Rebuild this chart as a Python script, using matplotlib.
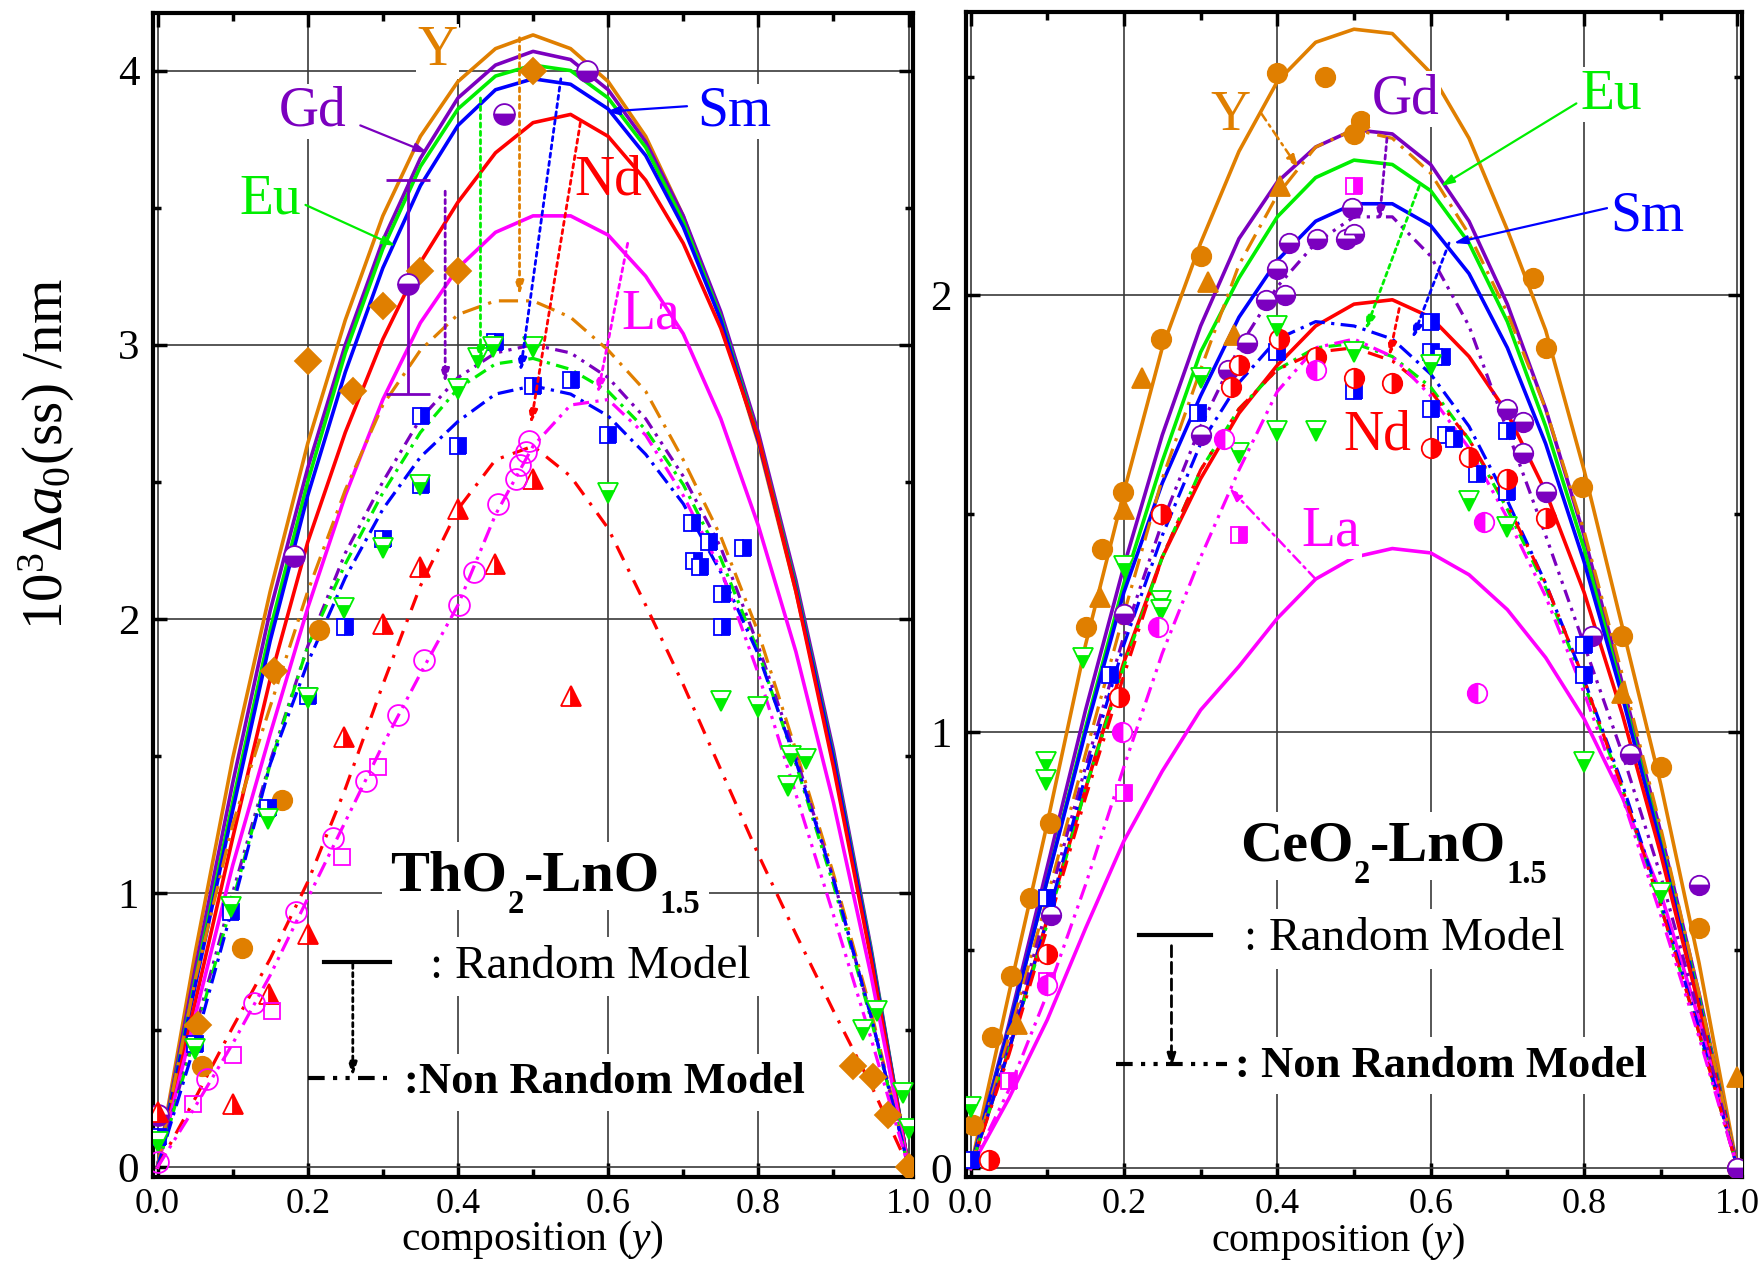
import matplotlib.pyplot as plt
from matplotlib.ticker import FormatStrFormatter, MultipleLocator

plt.rcParams['font.family'] = ['Liberation Serif', 'DejaVu Serif']
plt.rcParams['mathtext.fontset'] = 'custom'
plt.rcParams['mathtext.rm'] = 'Liberation Serif'
plt.rcParams['mathtext.it'] = 'Liberation Serif:italic'
plt.rcParams['mathtext.bf'] = 'Liberation Serif:bold'

C_Y, C_GD, C_EU, C_SM, C_ND, C_LA = '#e07f00', '#7b00bf', '#00ee00', '#0000ff', '#ff0000', '#ff00ff'

comp = [0.0, 0.05, 0.1, 0.15, 0.2, 0.25, 0.3, 0.35, 0.4, 0.45, 0.5,
        0.55, 0.6, 0.65, 0.7, 0.75, 0.8, 0.85, 0.9, 0.95, 1.0]

# ---- ThO2-LnO1.5 : random model (solid)
th_rand_Y = [0, 0.78, 1.49, 2.10, 2.64, 3.09, 3.47, 3.76, 3.96, 4.08, 4.13, 4.08, 3.96, 3.76, 3.47, 3.09, 2.64, 2.10, 1.49, 0.78, 0]
th_rand_Gd = [0, 0.72, 1.40, 2.03, 2.55, 3.00, 3.38, 3.68, 3.90, 4.02, 4.07, 4.04, 3.93, 3.74, 3.47, 3.12, 2.68, 2.14, 1.52, 0.80, 0]
th_rand_Eu = [0, 0.68, 1.33, 1.96, 2.50, 2.97, 3.35, 3.65, 3.86, 3.98, 4.02, 4.00, 3.90, 3.72, 3.45, 3.10, 2.66, 2.12, 1.50, 0.79, 0]
th_rand_Sm = [0, 0.66, 1.30, 1.92, 2.45, 2.90, 3.28, 3.58, 3.80, 3.93, 3.97, 3.95, 3.86, 3.69, 3.43, 3.09, 2.65, 2.11, 1.49, 0.78, 0]
th_rand_Nd = [0, 0.60, 1.20, 1.78, 2.28, 2.68, 3.02, 3.30, 3.52, 3.70, 3.81, 3.84, 3.76, 3.60, 3.37, 3.06, 2.66, 2.10, 1.46, 0.76, 0]
th_rand_La = [0, 0.55, 1.10, 1.58, 2.04, 2.45, 2.80, 3.08, 3.28, 3.41, 3.47, 3.47, 3.40, 3.25, 3.04, 2.73, 2.34, 1.88, 1.33, 0.70, 0]

# ---- ThO2-LnO1.5 : non random model (dash-dot)
th_nr_Y = [0, 0.68, 1.25, 1.68, 2.10, 2.47, 2.78, 2.98, 3.11, 3.16, 3.16, 3.10, 2.98, 2.83, 2.58, 2.30, 1.95, 1.52, 1.07, 0.57, 0]
th_nr_Gd = [0, 0.50, 1.00, 1.48, 1.90, 2.24, 2.50, 2.73, 2.88, 2.97, 3.00, 2.97, 2.88, 2.73, 2.52, 2.26, 1.90, 1.50, 1.05, 0.55, 0]
th_nr_Eu = [0, 0.48, 0.97, 1.47, 1.90, 2.20, 2.46, 2.68, 2.84, 2.93, 2.95, 2.91, 2.83, 2.69, 2.49, 2.22, 1.88, 1.47, 1.03, 0.54, 0]
th_nr_Sm = [0, 0.45, 0.95, 1.47, 1.84, 2.15, 2.40, 2.59, 2.72, 2.82, 2.85, 2.82, 2.74, 2.60, 2.42, 2.17, 1.87, 1.48, 1.05, 0.55, 0]
th_nr_Nd = [0, 0.25, 0.51, 0.76, 1.04, 1.38, 1.76, 2.12, 2.40, 2.58, 2.63, 2.52, 2.33, 2.05, 1.76, 1.45, 1.14, 0.85, 0.57, 0.30, 0]
th_nr_La = [0, 0.22, 0.45, 0.70, 0.98, 1.26, 1.54, 1.80, 2.05, 2.38, 2.63, 2.78, 2.80, 2.67, 2.45, 2.18, 1.80, 1.36, 0.92, 0.47, 0]

# ---- ThO2-LnO1.5 : experimental points
th_Y_dia_x = [0.054, 0.155, 0.2, 0.26, 0.3, 0.35, 0.4, 0.5, 0.926, 0.952, 0.973, 1.0]
th_Y_dia_y = [0.52, 1.81, 2.94, 2.83, 3.14, 3.27, 3.27, 4.0, 0.37, 0.33, 0.19, 0.0]
th_Y_cir_x = [0.059, 0.113, 0.166, 0.215]
th_Y_cir_y = [0.37, 0.80, 1.34, 1.96]
th_Gd_x = [0.0, 0.182, 0.333, 0.461, 0.572]
th_Gd_y = [0.19, 2.23, 3.22, 3.84, 4.0]
th_Sm_x = [0.0, 0.05, 0.098, 0.147, 0.2, 0.25, 0.3, 0.351, 0.351, 0.4, 0.45, 0.5, 0.55, 0.6,
           0.712, 0.734, 0.78, 0.714, 0.722, 0.752, 0.752]
th_Sm_y = [0.11, 0.45, 0.93, 1.31, 1.72, 1.97, 2.29, 2.74, 2.49, 2.63, 3.01, 2.85, 2.87, 2.67,
           2.35, 2.28, 2.26, 2.21, 2.19, 2.09, 1.97]
th_Eu_x = [0.0, 0.05, 0.098, 0.147, 0.2, 0.248, 0.3, 0.35, 0.4, 0.427, 0.447, 0.5, 0.6,
           0.75, 0.8, 0.843, 0.863, 0.84, 0.94, 0.958, 0.992, 1.0]
th_Eu_y = [0.09, 0.43, 0.95, 1.27, 1.71, 2.04, 2.26, 2.49, 2.84, 2.95, 2.99, 2.99, 2.46,
           1.70, 1.68, 1.50, 1.49, 1.39, 0.50, 0.57, 0.27, 0.14]
th_Nd_x = [0.0, 0.1, 0.149, 0.2, 0.248, 0.3, 0.35, 0.4, 0.45, 0.5, 0.55]
th_Nd_y = [0.2, 0.23, 0.63, 0.85, 1.57, 1.98, 2.19, 2.40, 2.20, 2.51, 1.72]
th_La_cir_x = [0.0, 0.066, 0.128, 0.184, 0.233, 0.277, 0.32, 0.355, 0.401, 0.421, 0.453, 0.477, 0.483, 0.49, 0.495]
th_La_cir_y = [0.02, 0.32, 0.60, 0.93, 1.20, 1.41, 1.65, 1.85, 2.05, 2.17, 2.42, 2.51, 2.56, 2.61, 2.65]
th_La_sq_x = [0.047, 0.101, 0.153, 0.246, 0.294]
th_La_sq_y = [0.23, 0.41, 0.57, 1.13, 1.46]

# ---- CeO2-LnO1.5 : random model (solid)
ce_rand_Y = [0, 0.40, 0.79, 1.20, 1.55, 1.88, 2.12, 2.33, 2.49, 2.58, 2.61, 2.60, 2.51, 2.36, 2.15, 1.92, 1.60, 1.24, 0.88, 0.47, 0]
ce_rand_Gd = [0, 0.33, 0.69, 1.05, 1.38, 1.68, 1.93, 2.13, 2.26, 2.34, 2.38, 2.37, 2.30, 2.17, 1.98, 1.74, 1.45, 1.11, 0.77, 0.40, 0]
ce_rand_Eu = [0, 0.32, 0.66, 1.01, 1.34, 1.62, 1.87, 2.04, 2.18, 2.27, 2.31, 2.30, 2.24, 2.12, 1.94, 1.70, 1.42, 1.09, 0.75, 0.39, 0]
ce_rand_Sm = [0, 0.32, 0.66, 1.00, 1.32, 1.57, 1.77, 1.95, 2.08, 2.17, 2.21, 2.21, 2.16, 2.05, 1.88, 1.66, 1.39, 1.08, 0.74, 0.38, 0]
ce_rand_Nd = [0, 0.27, 0.57, 0.87, 1.16, 1.40, 1.58, 1.73, 1.84, 1.93, 1.98, 1.99, 1.95, 1.86, 1.73, 1.55, 1.32, 1.04, 0.72, 0.37, 0]
ce_rand_La = [0, 0.16, 0.34, 0.55, 0.75, 0.91, 1.05, 1.15, 1.26, 1.35, 1.40, 1.42, 1.41, 1.36, 1.28, 1.17, 1.03, 0.85, 0.63, 0.34, 0]

# ---- CeO2-LnO1.5 : non random model (dash-dot)
ce_nr_Y = [0, 0.30, 0.62, 0.95, 1.27, 1.58, 1.83, 2.07, 2.23, 2.34, 2.38, 2.36, 2.28, 2.14, 1.96, 1.74, 1.46, 1.13, 0.78, 0.40, 0]
ce_nr_Gd = [0, 0.28, 0.60, 0.92, 1.22, 1.48, 1.70, 1.88, 2.02, 2.12, 2.18, 2.18, 2.09, 1.93, 1.69, 1.45, 1.20, 0.95, 0.67, 0.35, 0]
ce_nr_Eu = [0, 0.27, 0.56, 0.87, 1.15, 1.40, 1.60, 1.74, 1.83, 1.88, 1.89, 1.86, 1.79, 1.67, 1.51, 1.33, 1.11, 0.87, 0.60, 0.31, 0]
ce_nr_Sm = [0, 0.27, 0.57, 0.90, 1.20, 1.45, 1.66, 1.80, 1.90, 1.94, 1.93, 1.90, 1.82, 1.70, 1.53, 1.34, 1.12, 0.88, 0.61, 0.32, 0]
ce_nr_Nd = [0, 0.26, 0.55, 0.85, 1.13, 1.40, 1.60, 1.74, 1.83, 1.87, 1.88, 1.85, 1.78, 1.67, 1.52, 1.34, 1.12, 0.87, 0.60, 0.31, 0]
ce_nr_La = [0, 0.18, 0.40, 0.65, 0.92, 1.18, 1.40, 1.60, 1.78, 1.88, 1.90, 1.86, 1.77, 1.65, 1.49, 1.31, 1.09, 0.85, 0.58, 0.30, 0]

# ---- CeO2-LnO1.5 : experimental points
ce_Y_cir_x = [0.003, 0.028, 0.053, 0.078, 0.104, 0.15, 0.171, 0.199, 0.249, 0.3, 0.4, 0.462, 0.5, 0.509,
              0.733, 0.75, 0.797, 0.85, 0.9, 0.95, 1.0]
ce_Y_cir_y = [0.10, 0.30, 0.44, 0.62, 0.79, 1.24, 1.42, 1.55, 1.90, 2.09, 2.51, 2.50, 2.37, 2.40,
              2.04, 1.88, 1.56, 1.22, 0.92, 0.55, 0.0]
ce_Y_tri_x = [0.06, 0.169, 0.2, 0.223, 0.31, 0.343, 0.404, 0.85, 0.999]
ce_Y_tri_y = [0.33, 1.31, 1.51, 1.81, 2.03, 1.91, 2.25, 1.09, 0.21]
ce_Gd_x = [0.105, 0.2, 0.3, 0.336, 0.36, 0.385, 0.4, 0.41, 0.415, 0.452, 0.49, 0.5, 0.498,
           0.7, 0.72, 0.72, 0.75, 0.81, 0.86, 0.95, 1.0]
ce_Gd_y = [0.58, 1.27, 1.68, 1.83, 1.89, 1.99, 2.06, 2.00, 2.12, 2.13, 2.13, 2.14, 2.20,
           1.74, 1.71, 1.64, 1.55, 1.22, 0.95, 0.65, 0.0]
ce_Sm_x = [0.0, 0.1, 0.182, 0.297, 0.4, 0.5, 0.6, 0.6, 0.615, 0.6, 0.62, 0.63, 0.66, 0.7, 0.7, 0.8, 0.8]
ce_Sm_y = [0.02, 0.62, 1.13, 1.73, 1.87, 1.78, 1.94, 1.87, 1.86, 1.74, 1.68, 1.67, 1.59, 1.69, 1.55, 1.20, 1.13]
ce_Nd_x = [0.024, 0.1, 0.193, 0.249, 0.34, 0.35, 0.402, 0.45, 0.5, 0.55, 0.6, 0.65, 0.7, 0.75]
ce_Nd_y = [0.02, 0.49, 1.08, 1.50, 1.79, 1.84, 1.90, 1.86, 1.81, 1.80, 1.65, 1.63, 1.58, 1.49]
ce_Eu_x = [0.0, 0.099, 0.099, 0.147, 0.2, 0.249, 0.249, 0.3, 0.35, 0.4, 0.4, 0.45, 0.5, 0.6, 0.65, 0.7, 0.8, 0.9]
ce_Eu_y = [0.14, 0.93, 0.89, 1.17, 1.38, 1.30, 1.28, 1.81, 1.64, 1.93, 1.69, 1.69, 1.87, 1.84, 1.53, 1.47, 0.93, 0.63]
ce_La_sq_x = [0.05, 0.1, 0.2, 0.35, 0.5]
ce_La_sq_y = [0.20, 0.43, 0.86, 1.45, 2.25]
ce_La_cir_x = [0.1, 0.197, 0.245, 0.33, 0.45, 0.66, 0.67]
ce_La_cir_y = [0.42, 1.00, 1.24, 1.67, 1.83, 1.09, 1.48]

fig = plt.figure(figsize=(17.63, 12.63), dpi=100)
axL = fig.add_axes([0.0868, 0.0681, 0.4311, 0.9216])
axR = fig.add_axes([0.5479, 0.0681, 0.4402, 0.9226])

colors = [C_Y, C_GD, C_EU, C_SM, C_ND, C_LA]
nr_dashes = [(6, 2.5, 1, 2.5), (4, 2, 1, 2, 1, 2), (4, 2, 1, 2), (5, 2, 1, 2), (5, 3, 1, 3), (5, 2, 1, 2, 1, 2)]


def frame(ax, ylim, ymax_tick):
    ax.set_xlim(-0.006, 1.006)
    ax.set_ylim(*ylim)
    ax.set_xticks([0.0, 0.2, 0.4, 0.6, 0.8, 1.0])
    ax.xaxis.set_minor_locator(MultipleLocator(0.1))
    ax.set_yticks(list(range(0, ymax_tick + 1)))
    ax.yaxis.set_minor_locator(MultipleLocator(0.5))
    ax.xaxis.set_major_formatter(FormatStrFormatter('%.1f'))
    ax.grid(True, which='major', color='#3a3a3a', lw=1.2)
    ax.set_axisbelow(True)
    ax.tick_params(which='both', direction='in', top=True, right=True, width=2.5)
    ax.tick_params(which='major', length=10)
    ax.tick_params(which='minor', length=6)
    ax.tick_params(axis='x', labelsize=26, pad=8)
    ax.tick_params(axis='y', labelsize=31, pad=10)
    for s in ax.spines.values():
        s.set_linewidth(3)


def curves(ax, rand, nonrand):
    for ys, c in zip(rand, colors):
        ax.plot(comp, ys, color=c, lw=2.6, zorder=3)
    for ys, c, d in zip(nonrand, colors, nr_dashes):
        ax.plot(comp, ys, color=c, lw=2.3, dashes=d, zorder=3)


def pts(ax, x, y, m, c, fill='full', ms=14, alt='white'):
    ax.plot(x, y, ls='none', marker=m, ms=ms, color=c, mec=c, mfc=c, fillstyle=fill,
            markerfacecoloralt=alt, mew=1.3, zorder=5)


def arrow(ax, start, end, c, ls='-', lw=1.6, hw=0.25, hl=0.8):
    ax.annotate('', xy=end, xytext=start, zorder=6,
                arrowprops=dict(arrowstyle='-|>,head_length=%g,head_width=%g' % (hl, hw),
                                color=c, lw=lw, ls=ls, shrinkA=0, shrinkB=0))


def label(ax, x, y, s, c):
    ax.text(x, y, s, color=c, fontsize=40, ha='center', va='center', zorder=7,
            bbox=dict(facecolor='white', edgecolor='none', pad=1))


renderer = fig.canvas.get_renderer()
W, H = fig.bbox.width, fig.bbox.height


def formula(ax, x, y, parts, size=42):
    # bold formula written piece by piece, subscripts smaller and lower;
    # a white copy with a box goes underneath so the grid is hidden
    px, py = ax.transData.transform((x, y))
    for s, sub in parts:
        pos = (px / W, (py - (23 if sub else 0)) / H)
        kw = dict(fontsize=size * (0.56 if sub else 1), fontweight='bold', ha='left', va='baseline')
        fig.text(*pos, s, color='white', zorder=6,
                 bbox=dict(facecolor='white', edgecolor='none', pad=6), **kw)
        t = fig.text(*pos, s, color='black', zorder=7, **kw)
        px = t.get_window_extent(renderer).x1


box = dict(facecolor='white', edgecolor='none', pad=6)
dot = (0, (1.5, 1.5))
title_parts_th = [('ThO', False), ('2', True), ('-LnO', False), ('1.5', True)]
title_parts_ce = [('CeO', False), ('2', True), ('-LnO', False), ('1.5', True)]

# ================= left panel : ThO2-LnO1.5
frame(axL, (-0.036, 4.21), 4)
curves(axL, [th_rand_Y, th_rand_Gd, th_rand_Eu, th_rand_Sm, th_rand_Nd, th_rand_La],
       [th_nr_Y, th_nr_Gd, th_nr_Eu, th_nr_Sm, th_nr_Nd, th_nr_La])
pts(axL, th_Y_dia_x, th_Y_dia_y, 'D', C_Y, ms=13)
pts(axL, th_Y_cir_x, th_Y_cir_y, 'o', C_Y, ms=14)
axL.errorbar([0.333], [3.22], yerr=[[0.40], [0.38]], fmt='none', ecolor=C_GD, elinewidth=2,
             capsize=16, capthick=2, zorder=4)
pts(axL, th_Gd_x, th_Gd_y, 'o', C_GD, fill='bottom', ms=15)
pts(axL, th_Sm_x, th_Sm_y, 's', C_SM, fill='right', ms=12)
pts(axL, th_Eu_x, th_Eu_y, 'v', C_EU, fill='bottom', ms=15)
pts(axL, th_Nd_x, th_Nd_y, '^', C_ND, fill='right', ms=15)
pts(axL, th_La_cir_x, th_La_cir_y, 'o', C_LA, fill='none', ms=15)
pts(axL, th_La_sq_x, th_La_sq_y, 's', C_LA, fill='none', ms=12)

arrow(axL, (0.482, 4.12), (0.482, 3.18), C_Y, ls=dot, lw=2)
arrow(axL, (0.383, 3.56), (0.383, 2.86), C_GD, ls=dot, lw=2)
arrow(axL, (0.43, 3.90), (0.43, 2.94), C_EU, ls=dot, lw=2)
arrow(axL, (0.537, 3.97), (0.483, 2.90), C_SM, ls=dot, lw=2)
arrow(axL, (0.563, 3.81), (0.497, 2.71), C_ND, ls=dot, lw=2)
arrow(axL, (0.626, 3.37), (0.586, 2.82), C_LA, ls=dot, lw=2)

label(axL, 0.373, 4.07, 'Y', C_Y)
label(axL, 0.206, 3.85, 'Gd', C_GD)
label(axL, 0.15, 3.53, 'Eu', C_EU)
label(axL, 0.768, 3.85, 'Sm', C_SM)
axL.text(0.6, 3.6, 'Nd', color=C_ND, fontsize=40, ha='center', va='center', zorder=7)
axL.text(0.657, 3.11, 'La', color=C_LA, fontsize=40, ha='center', va='center', zorder=7)
arrow(axL, (0.27, 3.80), (0.36, 3.70), C_GD)
arrow(axL, (0.197, 3.51), (0.317, 3.36), C_EU)
arrow(axL, (0.705, 3.87), (0.597, 3.85), C_SM)

formula(axL, 0.31, 1.01, title_parts_th)
axL.plot([0.221, 0.31], [0.748, 0.748], color='black', lw=3, zorder=7)
axL.text(0.363, 0.69, ': Random Model', fontsize=34, ha='left', va='baseline', zorder=7, bbox=box)
arrow(axL, (0.26, 0.74), (0.26, 0.33), 'black', ls=dot, lw=2)
axL.plot([0.2, 0.305], [0.325, 0.325], color='black', lw=3, dashes=(4, 2, 1, 2, 1, 2), zorder=7)
axL.text(0.328, 0.27, ':Non Random Model', fontsize=32, fontweight='bold', ha='left',
         va='baseline', zorder=7, bbox=box)

# ================= right panel : CeO2-LnO1.5
frame(axR, (-0.02, 2.65), 2)
curves(axR, [ce_rand_Y, ce_rand_Gd, ce_rand_Eu, ce_rand_Sm, ce_rand_Nd, ce_rand_La],
       [ce_nr_Y, ce_nr_Gd, ce_nr_Eu, ce_nr_Sm, ce_nr_Nd, ce_nr_La])
pts(axR, ce_Y_cir_x, ce_Y_cir_y, 'o', C_Y, ms=14)
pts(axR, ce_Y_tri_x, ce_Y_tri_y, '^', C_Y, ms=14)
pts(axR, ce_Gd_x, ce_Gd_y, 'o', C_GD, fill='bottom', ms=14)
pts(axR, ce_Sm_x, ce_Sm_y, 's', C_SM, fill='right', ms=12)
pts(axR, ce_Nd_x, ce_Nd_y, 'o', C_ND, fill='right', ms=14)
pts(axR, ce_Eu_x, ce_Eu_y, 'v', C_EU, fill='bottom', ms=15)
pts(axR, ce_La_sq_x, ce_La_sq_y, 's', C_LA, fill='right', ms=12)
pts(axR, ce_La_cir_x, ce_La_cir_y, 'o', C_LA, fill='left', ms=14)

arrow(axR, (0.543, 2.36), (0.533, 2.17), C_GD, ls=dot, lw=2)
arrow(axR, (0.585, 2.25), (0.515, 1.92), C_EU, ls=dot, lw=2)
arrow(axR, (0.624, 2.12), (0.576, 1.90), C_SM, ls=dot, lw=2)
arrow(axR, (0.559, 1.97), (0.546, 1.86), C_ND, ls=dot, lw=2)

axR.text(0.339, 2.41, 'Y', color=C_Y, fontsize=40, ha='center', va='center', zorder=7)
label(axR, 0.567, 2.45, 'Gd', C_GD)
label(axR, 0.835, 2.46, 'Eu', C_EU)
label(axR, 0.882, 2.18, 'Sm', C_SM)
axR.text(0.53, 1.68, 'Nd', color=C_ND, fontsize=40, ha='center', va='center', zorder=7)
label(axR, 0.47, 1.46, 'La', C_LA)
arrow(axR, (0.378, 2.42), (0.428, 2.29), C_Y, ls=(0, (4, 2, 1, 2)), lw=1.8)
arrow(axR, (0.79, 2.44), (0.613, 2.25), C_EU)
arrow(axR, (0.83, 2.20), (0.63, 2.12), C_SM)
arrow(axR, (0.45, 1.35), (0.337, 1.56), C_LA, ls=(0, (4, 2, 1, 2)), lw=1.8)

formula(axR, 0.352, 0.706, title_parts_ce)
axR.plot([0.22, 0.313], [0.534, 0.534], color='black', lw=3, zorder=7)
axR.text(0.357, 0.50, ': Random Model', fontsize=34, ha='left', va='baseline', zorder=7, bbox=box)
arrow(axR, (0.262, 0.51), (0.262, 0.23), 'black', ls=(0, (4, 2)), lw=2)
axR.plot([0.19, 0.34], [0.24, 0.24], color='black', lw=3, dashes=(4, 2, 1, 2, 1, 2), zorder=7)
axR.text(0.345, 0.21, ': Non Random Model', fontsize=32, fontweight='bold', ha='left',
         va='baseline', zorder=7, bbox=box)

# ================= axis titles
fig.text(0.0267, 0.64, r'10$^3$$\Delta$$\mathit{a}_\mathrm{0}$(ss) /nm', rotation=90,
         fontsize=41, ha='center', va='center')
fig.text(0.3018, 0.018, r'composition ($\mathit{y}$)', fontsize=30, ha='center', va='center')
fig.text(0.759, 0.017, r'composition ($\mathit{y}$)', fontsize=29, ha='center', va='center')

fig.savefig('out.png', dpi=100)
